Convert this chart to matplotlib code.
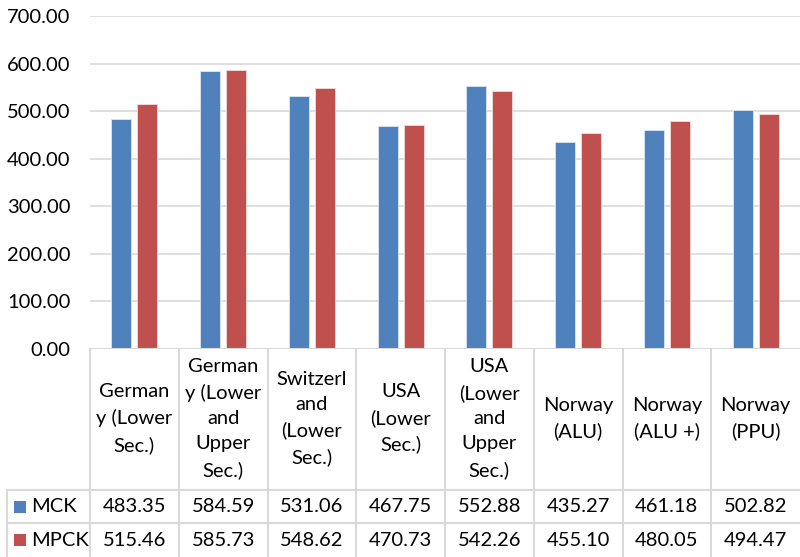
import numpy as np
import matplotlib.pyplot as plt
from matplotlib.lines import Line2D
from matplotlib.patches import Rectangle

plt.rcParams['font.family'] = ['Lato', 'DejaVu Sans']

# Data
categories = ['German\ny (Lower\nSec.)', 'German\ny (Lower\nand\nUpper\nSec.)',
              'Switzerl\nand\n(Lower\nSec.)', 'USA\n(Lower\nSec.)',
              'USA\n(Lower\nand\nUpper\nSec.)', 'Norway\n(ALU)', 'Norway\n(ALU +)',
              'Norway\n(PPU)']
mck = [483.35, 584.59, 531.06, 467.75, 552.88, 435.27, 461.18, 502.82]
mpck = [515.46, 585.73, 548.62, 470.73, 542.26, 455.10, 480.05, 494.47]
series_names = ['MCK', 'MPCK']
colors = ['#4F81BD', '#C0504D']

W, H = 800, 557
fs = 14.5
fig = plt.figure(figsize=(W / 100, H / 100), dpi=100)


def fx(x):
    return x / W


def fy(y):
    return 1 - y / H


# plot area in pixels
left, right, top, base = 90, 800, 16, 349
ax = fig.add_axes([fx(left), fy(base), fx(right) - fx(left), fy(top) - fy(base)])

n = len(categories)
x = np.arange(n)
bw = 0.225
off = 0.146
ax.bar(x - off, mck, bw, color=colors[0], edgecolor='#dce6f2', linewidth=0.6, zorder=3)
ax.bar(x + off, mpck, bw, color=colors[1], edgecolor='#f2dcdb', linewidth=0.6, zorder=3)

ax.set_xlim(-0.5, n - 0.5)
ax.set_ylim(0, 700)
ax.set_yticks(np.arange(0, 701, 100))
ax.set_yticklabels([f'{v:.2f}' for v in np.arange(0, 701, 100)], fontsize=fs)
ax.tick_params(axis='y', length=0, pad=14)
ax.set_xticks([])
ax.yaxis.grid(True, color='#d9d9d9', linewidth=1.2, zorder=0)
for s in ax.spines.values():
    s.set_visible(False)
ax.axhline(0, color='#d9d9d9', linewidth=1.5, zorder=4)

# data table below the axes
grid_c = '#d9d9d9'
cell_w = (right - left) / n
row1, row2, bottom = 490, 523, 557
legend_left = 7


def hline(y, x0, x1):
    fig.add_artist(Line2D([fx(x0), fx(x1)], [fy(y), fy(y)], color=grid_c, linewidth=1.5))


def vline(xp, y0, y1):
    fig.add_artist(Line2D([fx(xp), fx(xp)], [fy(y0), fy(y1)], color=grid_c, linewidth=1.5))


hline(row1, legend_left, right)
hline(row2, legend_left, right)
vline(legend_left, row1, bottom)
for i in range(n):
    vline(left + i * cell_w, base, bottom)

for i, cat in enumerate(categories):
    cx = left + (i + 0.5) * cell_w
    fig.text(fx(cx), fy((base + row1) / 2 - 1), cat, ha='center', va='center',
             fontsize=fs, linespacing=1.58)
    fig.text(fx(cx), fy((row1 + row2) / 2), f'{mck[i]:.2f}', ha='center', va='center',
             fontsize=fs)
    fig.text(fx(cx), fy((row2 + bottom) / 2), f'{mpck[i]:.2f}', ha='center', va='center',
             fontsize=fs)

for j, (name, c) in enumerate(zip(series_names, colors)):
    yc = (row1 + row2) / 2 if j == 0 else (row2 + bottom) / 2
    fig.add_artist(Rectangle((fx(14), fy(yc + 6)), fx(12), fy(0) - fy(12),
                             facecolor=c, edgecolor='none'))
    fig.text(fx(31), fy(yc), name, ha='left', va='center', fontsize=fs)

fig.savefig('out.png', dpi=100)
